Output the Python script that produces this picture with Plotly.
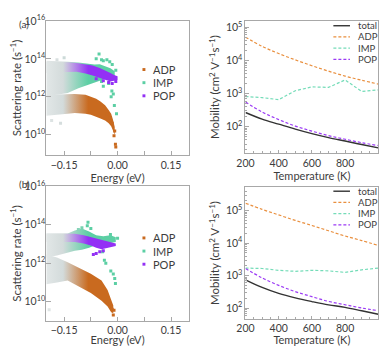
import plotly.graph_objects as go

# ---------------- scattering rates, panel (a) ----------------
# dense clouds: energy (eV), upper / lower edge as log10(rate)
adp_a_e = [-0.200, -0.170, -0.140, -0.120, -0.090, -0.075, -0.060, -0.048, -0.035, -0.025, -0.018, -0.013, -0.008]
adp_a_hi = [12.10, 12.12, 12.15, 12.15, 12.10, 12.00, 11.90, 11.75, 11.55, 11.30, 11.10, 10.80, 10.40]
adp_a_lo = [11.00, 11.05, 11.10, 11.15, 11.10, 11.05, 10.95, 10.85, 10.75, 10.60, 10.45, 10.20, 10.00]

imp_a_e = [-0.200, -0.170, -0.140, -0.110, -0.085, -0.065, -0.050, -0.035, -0.020, -0.008]
imp_a_hi = [13.90, 13.88, 13.85, 13.80, 13.75, 13.70, 13.72, 13.60, 13.50, 13.35]
imp_a_lo = [12.05, 12.10, 12.20, 12.45, 12.60, 12.75, 12.85, 12.95, 13.00, 13.05]

pop_a_e = [-0.200, -0.170, -0.140, -0.115, -0.090, -0.070, -0.050, -0.035, -0.020, -0.010, 0.000]
pop_a_hi = [13.85, 13.85, 13.82, 13.78, 13.72, 13.65, 13.52, 13.40, 13.25, 13.15, 13.08]
pop_a_lo = [13.25, 13.28, 13.30, 13.32, 13.22, 13.12, 13.00, 12.90, 12.80, 12.82, 12.88]

# scattered points outside the clouds
adp_a_pe = [-0.030, -0.020, -0.015, -0.010, -0.008, -0.006, -0.005, -0.160, -0.185]
adp_a_pr = [11.10, 10.90, 10.60, 9.95, 10.20, 9.50, 9.35, 10.60, 10.75]
imp_a_pe = [-0.052, -0.060, -0.045, -0.040, -0.030, -0.022, -0.015, -0.005, -0.040, -0.045,
            -0.025, -0.018, -0.016, -0.012, -0.009, -0.003, -0.150, -0.170]
imp_a_pr = [14.26, 14.00, 13.95, 13.90, 13.95, 13.85, 13.70, 13.40, 12.56, 12.80,
            12.70, 12.00, 12.30, 12.15, 11.54, 11.10, 14.05, 13.95]
pop_a_pe = [-0.060, -0.040, -0.025, -0.015, -0.005]
pop_a_pr = [12.95, 12.85, 12.75, 12.70, 12.80]

# ---------------- scattering rates, panel (b) ----------------
adp_b_e = [-0.200, -0.170, -0.140, -0.110, -0.075, -0.045, -0.028, -0.018, -0.012]
adp_b_hi = [12.45, 12.30, 12.05, 11.78, 11.45, 11.10, 10.60, 10.10, 9.80]
adp_b_lo = [10.90, 11.00, 11.10, 10.80, 10.45, 10.05, 9.75, 9.45, 9.40]

imp_b_e = [-0.200, -0.170, -0.140, -0.120, -0.100, -0.080, -0.060, -0.040, -0.020, -0.005]
imp_b_hi = [13.55, 13.55, 13.55, 13.70, 13.80, 13.65, 13.45, 13.40, 13.45, 13.35]
imp_b_lo = [12.30, 12.40, 12.55, 12.65, 12.70, 12.80, 12.95, 13.00, 13.05, 13.10]

pop_b_e = [-0.200, -0.170, -0.140, -0.120, -0.095, -0.075, -0.060, -0.045, -0.030, -0.015, -0.005]
pop_b_hi = [13.55, 13.55, 13.55, 13.53, 13.45, 13.35, 13.28, 13.22, 13.15, 13.08, 13.02]
pop_b_lo = [13.10, 13.10, 13.10, 13.10, 13.02, 12.92, 12.80, 12.72, 12.78, 12.85, 12.90]

adp_b_pe = [-0.020, -0.015, -0.012, -0.010, -0.192]
adp_b_pr = [9.90, 9.60, 9.30, 9.55, 9.58]
imp_b_pe = [-0.083, -0.085, -0.100, -0.110, -0.075, -0.042, -0.037, -0.033, -0.019, -0.012,
            -0.008, -0.006, 0.000, -0.020]
imp_b_pr = [14.13, 13.95, 13.85, 13.75, 13.80, 12.60, 12.15, 12.00, 11.60, 11.44,
            11.20, 10.95, 13.30, 13.50]
pop_b_pe = [-0.068, -0.060, -0.050, -0.040]
pop_b_pr = [12.45, 12.50, 12.60, 12.65]

# ---------------- mobility vs temperature ----------------
temp = [200, 300, 400, 500, 600, 700, 800, 900, 1000]

tot_a = [270, 170, 120, 85, 62, 47, 37, 29, 23]
adp_a = [51000, 27000, 16300, 10500, 7000, 4800, 3400, 2550, 1950]
imp_a = [820, 760, 660, 1230, 1600, 1550, 2600, 1170, 1300]
pop_a = [560, 280, 165, 105, 74, 54, 42, 33, 27]

tot_b = [740, 430, 282, 205, 158, 125, 105, 82, 64]
adp_b = [170000, 110000, 74000, 50000, 35000, 24000, 16600, 12000, 8500]
imp_b = [1700, 1650, 1450, 1350, 1450, 1400, 1250, 1500, 1700]
pop_b = [1650, 850, 500, 320, 224, 160, 126, 100, 83]

names = ["ADP", "IMP", "POP"]
c_adp, c_imp, c_pop = "#c96a1f", "#5ccfa4", "#9330f5"
l_adp, l_imp, l_pop = "#e98f3e", "#74dcb8", "#9b3af5"
FADE = ["#e2e7e7", "#d3dbdb"]
# the page body keeps its default 8px margin, so the figure is made that
# much smaller and every reference pixel position is shifted by OFF
OFF = 8
W, H = 390 - OFF, 346 - OFF
TXT = "#3d3d3d"
FONT = "Lato"

fig = go.Figure()


def px(x):
    return (x - OFF) / W


def py(y):
    return 1 - (y - OFF) / H


def scale(color):
    return [[0, FADE[0]], [0.4, FADE[1]], [1, color]]


def band(e, hi, lo, color, xa, ya):
    xs = list(e) + list(e[::-1])
    ys = [10 ** v for v in hi] + [10 ** v for v in lo[::-1]]
    fig.add_trace(go.Scatter(
        x=xs, y=ys, mode="lines", line=dict(width=0), fill="toself",
        fillgradient=dict(type="horizontal", colorscale=scale(color), start=-0.2, stop=-0.085),
        xaxis=xa, yaxis=ya, hoverinfo="skip", showlegend=False))


def dots(e, r, color, xa, ya):
    fig.add_trace(go.Scatter(
        x=e, y=[10 ** v for v in r], mode="markers",
        marker=dict(symbol="square", size=3, color=e, colorscale=scale(color),
                    cmin=-0.2, cmax=-0.085, line=dict(width=0)),
        xaxis=xa, yaxis=ya, hoverinfo="skip", showlegend=False))


for xa, ya, sets in [
    ("x", "y", [(adp_a_e, adp_a_hi, adp_a_lo, adp_a_pe, adp_a_pr, c_adp),
                (imp_a_e, imp_a_hi, imp_a_lo, imp_a_pe, imp_a_pr, c_imp),
                (pop_a_e, pop_a_hi, pop_a_lo, pop_a_pe, pop_a_pr, c_pop)]),
    ("x3", "y3", [(adp_b_e, adp_b_hi, adp_b_lo, adp_b_pe, adp_b_pr, c_adp),
                  (imp_b_e, imp_b_hi, imp_b_lo, imp_b_pe, imp_b_pr, c_imp),
                  (pop_b_e, pop_b_hi, pop_b_lo, pop_b_pe, pop_b_pr, c_pop)]),
]:
    for e, hi, lo, pe, pr, col in sets:
        band(e, hi, lo, col, xa, ya)
    # scattered points drawn last so they sit above the clouds
    for e, hi, lo, pe, pr, col in sets:
        dots(pe, pr, col, xa, ya)

for xa, ya, series in [
    ("x2", "y2", [(tot_a, "#333333", "solid"), (adp_a, l_adp, "3px,2px"),
                  (imp_a, l_imp, "3px,2px"), (pop_a, l_pop, "3px,2px")]),
    ("x4", "y4", [(tot_b, "#333333", "solid"), (adp_b, l_adp, "3px,2px"),
                  (imp_b, l_imp, "3px,2px"), (pop_b, l_pop, "3px,2px")]),
]:
    for i, (vals, col, dash) in enumerate(series):
        fig.add_trace(go.Scatter(
            x=temp, y=vals, mode="lines", xaxis=xa, yaxis=ya, showlegend=False,
            line=dict(color=col, dash=dash, width=1.4 if i == 0 else 1.2,
                      shape="linear" if i == 2 else "spline")))


def box(x0, x1, y0, y1):
    return dict(x=[px(x0), px(x1)], y=[py(y1), py(y0)])


frame = dict(showline=True, linecolor="#a8a8a8", linewidth=1, mirror=True,
             ticks="inside", tickcolor="#a8a8a8", showgrid=False, zeroline=False,
             tickfont=dict(size=10.5, color=TXT, family=FONT))
title_font = dict(size=11, color=TXT, family=FONT)

left_x = dict(range=[-0.2, 0.2], tickvals=[-0.15, -0.075, 0, 0.075, 0.15],
              ticktext=["\u22120.15", "", "0.00", "", "0.15"], ticklen=4,
              title=dict(text="Energy (eV)", standoff=2, font=title_font), **frame)
sup = {10: "10<sup>10</sup>", 12: "10<sup>12</sup>", 14: "10<sup>14</sup>", 16: "10<sup>16</sup>"}
left_y_common = dict(type="log", tickvals=[10 ** k for k in sup], ticktext=list(sup.values()),
                     ticklen=5, ticklabelstandoff=-2,
                     title=dict(text="Scattering rate (s<sup>\u22121</sup>)", standoff=5,
                                font=dict(size=11.5, color=TXT, family=FONT)), **frame)

minor_T = [t for t in range(200, 1001, 50) if t % 200]
right_x = dict(range=[200, 1000], tickvals=[200, 400, 600, 800, 1000], ticklen=3,
               minor=dict(tickvals=minor_T, ticks="inside", ticklen=2, tickcolor="#a8a8a8"),
               title=dict(text="Temperature (K)", standoff=2, font=title_font), **frame)
minor_mu = [m * 10 ** k for k in range(1, 6) for m in range(2, 10)]
right_y_common = dict(type="log", tickvals=[1e2, 1e3, 1e4, 1e5],
                      ticktext=["10<sup>2</sup>", "10<sup>3</sup>", "10<sup>4</sup>", "10<sup>5</sup>"],
                      ticklen=4,
                      minor=dict(tickvals=minor_mu, ticks="inside", ticklen=2, tickcolor="#a8a8a8"),
                      title=dict(text="Mobility (cm<sup>2</sup> V<sup>\u22121</sup>s<sup>\u22121</sup>)",
                                 standoff=3, font=dict(size=11.5, color=TXT, family=FONT)),
                      **frame)

d_al = box(38, 184, 13, 151)
d_ar = box(242, 378, 13, 149)
d_bl = box(38, 184, 183, 321)
d_br = box(242, 378, 184, 319)

fig.update_layout(
    width=W, height=H, margin=dict(l=0, r=0, t=0, b=0),
    paper_bgcolor="white", plot_bgcolor="white",
    font=dict(family=FONT, color=TXT),
    xaxis=dict(domain=d_al["x"], anchor="y", **left_x),
    yaxis=dict(domain=d_al["y"], anchor="x", range=[8.92, 16], **left_y_common),
    xaxis2=dict(domain=d_ar["x"], anchor="y2", **right_x),
    yaxis2=dict(domain=d_ar["y"], anchor="x2", range=[1.2, 5.2], **right_y_common),
    xaxis3=dict(domain=d_bl["x"], anchor="y3", **left_x),
    yaxis3=dict(domain=d_bl["y"], anchor="x3", range=[9.01, 16], **left_y_common),
    xaxis4=dict(domain=d_br["x"], anchor="y4", **right_x),
    yaxis4=dict(domain=d_br["y"], anchor="x4", range=[1.67, 5.72], **right_y_common),
)

shapes, notes = [], []
# scatter legends (left panels)
for y0 in (63, 236):
    for i, (nm, col) in enumerate(zip(names, [c_adp, c_imp, c_pop])):
        yy = y0 + i * 13.5
        shapes.append(dict(type="rect", xref="paper", yref="paper",
                           x0=px(136.5), x1=px(139.5), y0=py(yy + 1.5), y1=py(yy - 1.5),
                           fillcolor=col, line=dict(width=0)))
        notes.append(dict(text=nm, x=px(145), y=py(yy), xref="paper", yref="paper",
                          xanchor="left", yanchor="middle", showarrow=False,
                          font=dict(size=11, color=TXT, family=FONT)))
# line legends (right panels)
for y0 in (18, 188):
    for i, (nm, col) in enumerate(zip(["total"] + names, ["#333333", l_adp, l_imp, l_pop])):
        yy = y0 + i * 11.5
        shapes.append(dict(type="line", xref="paper", yref="paper",
                           x0=px(332), x1=px(349), y0=py(yy), y1=py(yy),
                           line=dict(color=col, width=1.4 if i == 0 else 1.2,
                                     dash="solid" if i == 0 else "3px,2px")))
        notes.append(dict(text=nm, x=px(355), y=py(yy), xref="paper", yref="paper",
                          xanchor="left", yanchor="middle", showarrow=False,
                          font=dict(size=9.5, color=TXT, family=FONT)))
for lab, yy in (("(a)", 8), ("(b)", 172)):
    notes.append(dict(text=lab, x=0, y=py(yy), xref="paper", yref="paper",
                      xanchor="left", yanchor="top", showarrow=False,
                      font=dict(size=10, color=TXT, family=FONT)))

fig.update_layout(shapes=shapes, annotations=notes)
fig.write_html("out.html")
